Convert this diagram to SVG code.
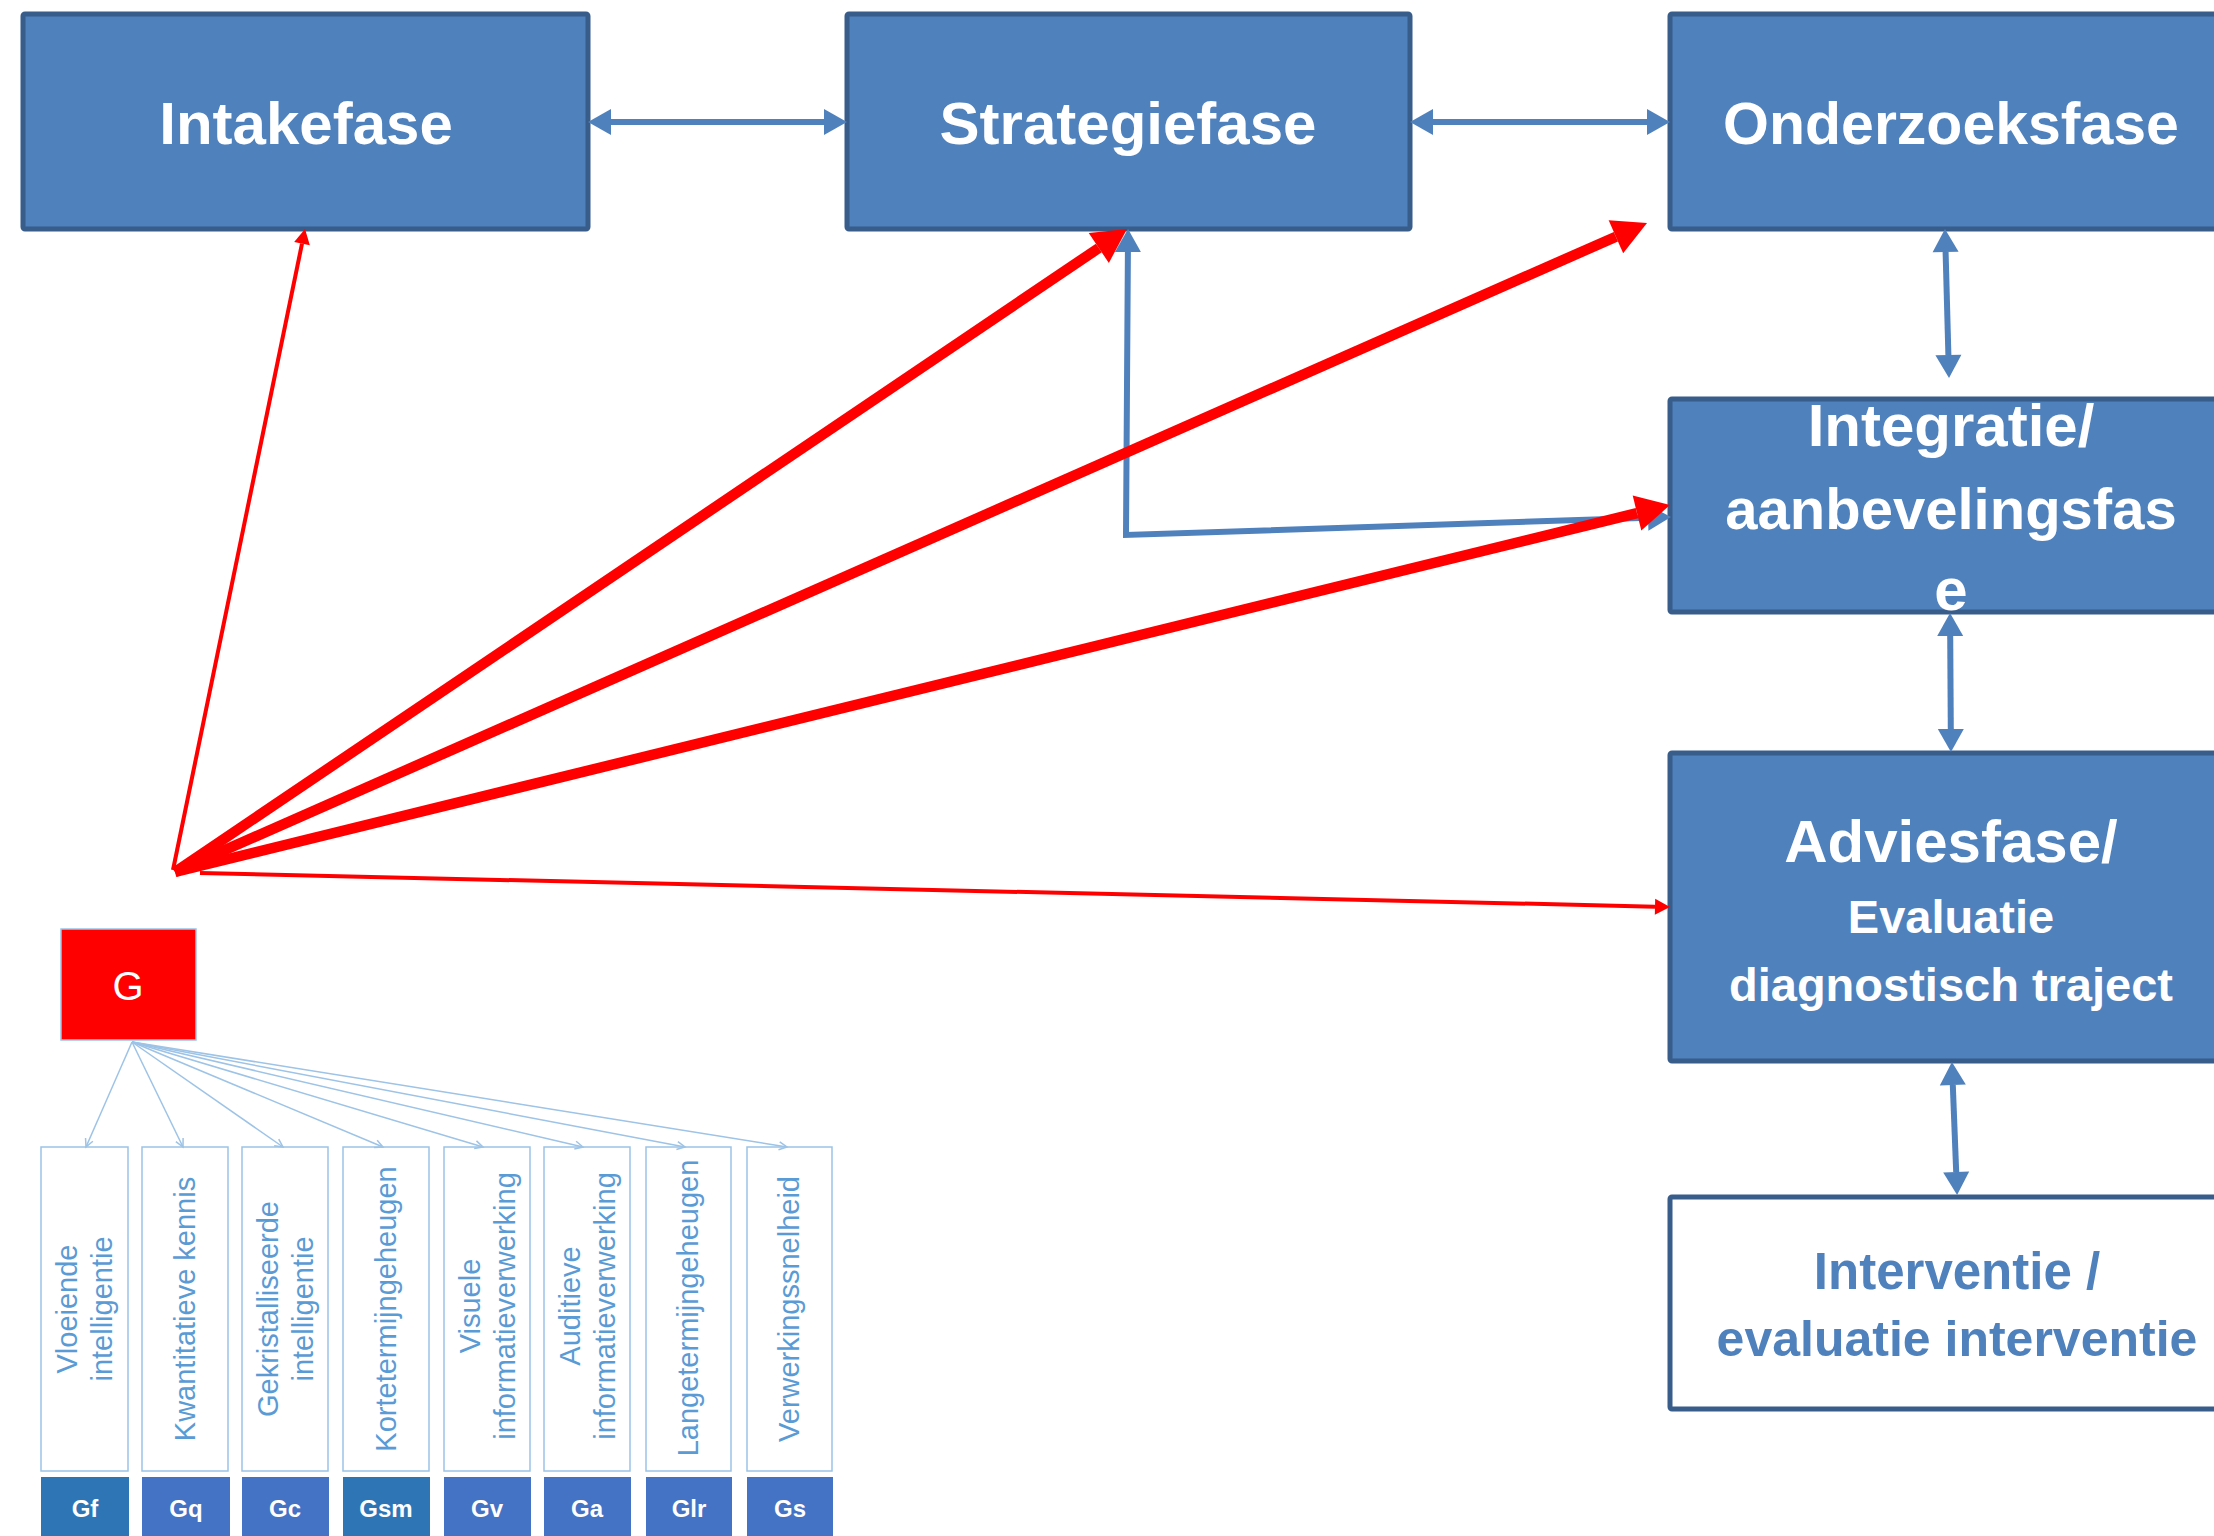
<svg xmlns="http://www.w3.org/2000/svg" width="2214" height="1536" viewBox="0 0 2214 1536">
<style>
.box{fill:#4f81bd;stroke:#385d8a;stroke-width:5}
.wbox{fill:#ffffff;stroke:#385d8a;stroke-width:5}
.ttl{font-family:"Liberation Sans",Arial,sans-serif;font-weight:bold;fill:#ffffff;text-anchor:middle}
.btl{font-family:"Liberation Sans",Arial,sans-serif;font-weight:bold;fill:#4f81bd;text-anchor:middle}
.blue{fill:none;stroke:#4f81bd;stroke-width:6}
.redthick{fill:none;stroke:#ff0000;stroke-width:10.5}
.redthin{fill:none;stroke:#ff0000;stroke-width:4}
.tree{fill:none;stroke:#9dc3e6;stroke-width:1.5}
.sub{fill:#ffffff;stroke:#9dc3e6;stroke-width:1.5}
.vt{font-family:"Liberation Sans",Arial,sans-serif;font-size:29px;fill:#5b9bd5;text-anchor:middle}
.lab{font-family:"Liberation Sans",Arial,sans-serif;font-weight:bold;font-size:24px;fill:#ffffff;text-anchor:middle}
.l1{fill:#2e75b6}
.l2{fill:#4472c4}
</style>
<defs>
<marker id="aBlue" markerUnits="userSpaceOnUse" viewBox="0 -13 23 26" markerWidth="23" markerHeight="26" refX="0" refY="0" orient="auto-start-reverse" overflow="visible">
<path d="M0,-13 L23,0 L0,13 Z" fill="#4f81bd"/>
</marker>
<marker id="aRedThick" markerUnits="userSpaceOnUse" viewBox="0 -18 34 36" markerWidth="34" markerHeight="36" refX="0" refY="0" orient="auto" overflow="visible">
<path d="M0,-18 L34,0 L0,18 Z" fill="#ff0000"/>
</marker>
<marker id="aRedThin" markerUnits="userSpaceOnUse" viewBox="0 -8 15 16" markerWidth="15" markerHeight="16" refX="0" refY="0" orient="auto" overflow="visible">
<path d="M0,-8 L15,0 L0,8 Z" fill="#ff0000"/>
</marker>
<marker id="aTree" markerUnits="userSpaceOnUse" viewBox="-10 -6 12 12" markerWidth="12" markerHeight="12" refX="0" refY="0" orient="auto" overflow="visible">
<path d="M-8,-4 L0,0 L-8,4" fill="none" stroke="#9dc3e6" stroke-width="1.5"/>
</marker>
</defs>
<rect width="2214" height="1536" fill="#ffffff"/>

<g id="intakefase">
<rect class="box" x="23" y="14" width="565" height="215" rx="2"/>
<text class="ttl" x="306" y="144" font-size="60">Intakefase</text>
</g>
<g id="strategiefase">
<rect class="box" x="847" y="14" width="563" height="215" rx="2"/>
<text class="ttl" x="1128" y="144" font-size="60">Strategiefase</text>
</g>
<g id="onderzoeksfase">
<rect class="box" x="1670" y="14" width="570" height="215" rx="2"/>
<text class="ttl" x="1951" y="144" font-size="59">Onderzoeksfase</text>
</g>
<g id="integratie">
<rect class="box" x="1670" y="399" width="570" height="213" rx="2"/>
<text class="ttl" x="1951" y="446" font-size="60">Integratie/</text>
<text class="ttl" x="1951" y="529" font-size="58">aanbevelingsfas</text>
<text class="ttl" x="1951" y="610" font-size="60">e</text>
</g>
<g id="adviesfase">
<rect class="box" x="1670" y="753" width="570" height="308" rx="2"/>
<text class="ttl" x="1951" y="862" font-size="60">Adviesfase/</text>
<text class="ttl" x="1951" y="933" font-size="47">Evaluatie</text>
<text class="ttl" x="1951" y="1001" font-size="47">diagnostisch traject</text>
</g>
<g id="interventie">
<rect class="wbox" x="1670" y="1197" width="570" height="212" rx="2"/>
<text class="btl" x="1957" y="1289" font-size="51">Interventie /</text>
<text class="btl" x="1957" y="1356" font-size="50">evaluatie interventie</text>
</g>

<g id="g-node">
<rect x="61" y="929" width="135" height="111" fill="#ff0000" stroke="#9dc3e6" stroke-width="1.5"/>
<text x="128" y="1000" font-family="Liberation Sans, Arial, sans-serif" font-size="40" fill="#ffffff" text-anchor="middle">G</text>
</g>

<g id="gf"><rect class="sub" x="41" y="1147" width="87" height="324"/>
<text class="vt" transform="translate(84,1309) rotate(-90)"><tspan x="0" y="-7">Vloeiende</tspan><tspan x="0" y="28">intelligentie</tspan></text>
<rect class="l1" x="41" y="1477" width="88" height="70"/><text class="lab" x="85" y="1517">Gf</text></g>
<g id="gq"><rect class="sub" x="142" y="1147" width="86" height="324"/>
<text class="vt" transform="translate(185,1309) rotate(-90)"><tspan x="0" y="10">Kwantitatieve kennis</tspan></text>
<rect class="l2" x="142" y="1477" width="88" height="70"/><text class="lab" x="186" y="1517">Gq</text></g>
<g id="gc"><rect class="sub" x="242" y="1147" width="86" height="324"/>
<text class="vt" transform="translate(285,1309) rotate(-90)"><tspan x="0" y="-7">Gekristalliseerde</tspan><tspan x="0" y="28">intelligentie</tspan></text>
<rect class="l2" x="242" y="1477" width="87" height="70"/><text class="lab" x="285" y="1517">Gc</text></g>
<g id="gsm"><rect class="sub" x="343" y="1147" width="86" height="324"/>
<text class="vt" transform="translate(386,1309) rotate(-90)"><tspan x="0" y="10">Kortetermijngeheugen</tspan></text>
<rect class="l1" x="343" y="1477" width="87" height="70"/><text class="lab" x="386" y="1517">Gsm</text></g>
<g id="gv"><rect class="sub" x="444" y="1147" width="86" height="324"/>
<text class="vt" transform="translate(487,1306) rotate(-90)"><tspan x="0" y="-7">Visuele</tspan><tspan x="0" y="28">informatieverwerking</tspan></text>
<rect class="l2" x="444" y="1477" width="87" height="70"/><text class="lab" x="487" y="1517">Gv</text></g>
<g id="ga"><rect class="sub" x="544" y="1147" width="86" height="324"/>
<text class="vt" transform="translate(587,1306) rotate(-90)"><tspan x="0" y="-7">Auditieve</tspan><tspan x="0" y="28">informatieverwerking</tspan></text>
<rect class="l2" x="544" y="1477" width="87" height="70"/><text class="lab" x="587" y="1517">Ga</text></g>
<g id="glr"><rect class="sub" x="646" y="1147" width="85" height="324"/>
<text class="vt" transform="translate(688,1308) rotate(-90)"><tspan x="0" y="10">Langetermijngeheugen</tspan></text>
<rect class="l2" x="646" y="1477" width="86" height="70"/><text class="lab" x="689" y="1517">Glr</text></g>
<g id="gs"><rect class="sub" x="747" y="1147" width="85" height="324"/>
<text class="vt" transform="translate(789,1309) rotate(-90)"><tspan x="0" y="10">Verwerkingssnelheid</tspan></text>
<rect class="l2" x="747" y="1477" width="86" height="70"/><text class="lab" x="790" y="1517">Gs</text></g>

<g id="connectors">
<g id="tree-arrows">
<line class="tree" x1="132" y1="1042" x2="86" y2="1147" marker-end="url(#aTree)"/>
<line class="tree" x1="132" y1="1042" x2="183" y2="1147" marker-end="url(#aTree)"/>
<line class="tree" x1="132" y1="1042" x2="283" y2="1147" marker-end="url(#aTree)"/>
<line class="tree" x1="132" y1="1042" x2="383" y2="1147" marker-end="url(#aTree)"/>
<line class="tree" x1="132" y1="1042" x2="483" y2="1147" marker-end="url(#aTree)"/>
<line class="tree" x1="132" y1="1042" x2="583" y2="1147" marker-end="url(#aTree)"/>
<line class="tree" x1="132" y1="1042" x2="685" y2="1147" marker-end="url(#aTree)"/>
<line class="tree" x1="132" y1="1042" x2="787" y2="1147" marker-end="url(#aTree)"/>
</g>
<g id="blue-arrows">
<line class="blue" x1="611" y1="122" x2="824" y2="122" marker-start="url(#aBlue)" marker-end="url(#aBlue)"/>
<line class="blue" x1="1433" y1="122" x2="1647" y2="122" marker-start="url(#aBlue)" marker-end="url(#aBlue)"/>
<line class="blue" x1="1945.6" y1="252" x2="1948.4" y2="355" marker-start="url(#aBlue)" marker-end="url(#aBlue)"/>
<line class="blue" x1="1950.2" y1="636" x2="1950.8" y2="729" marker-start="url(#aBlue)" marker-end="url(#aBlue)"/>
<line class="blue" x1="1952.8" y1="1085" x2="1956.2" y2="1172" marker-start="url(#aBlue)" marker-end="url(#aBlue)"/>
<path class="blue" d="M1127.9,252 L1126,535 L1648,517.7" marker-start="url(#aBlue)" marker-end="url(#aBlue)"/>
</g>
<g id="red-arrows">
<line class="redthin" x1="173" y1="870" x2="302" y2="243.7" marker-end="url(#aRedThin)"/>
<line class="redthick" x1="175" y1="872" x2="1098.8" y2="248" marker-end="url(#aRedThick)"/>
<line class="redthick" x1="175" y1="872" x2="1615.9" y2="236.7" marker-end="url(#aRedThick)"/>
<line class="redthick" x1="175" y1="872" x2="1637" y2="513.1" marker-end="url(#aRedThick)"/>
<line class="redthin" x1="200" y1="873" x2="1655" y2="906.65" marker-end="url(#aRedThin)"/>
</g>
</g>
</svg>
